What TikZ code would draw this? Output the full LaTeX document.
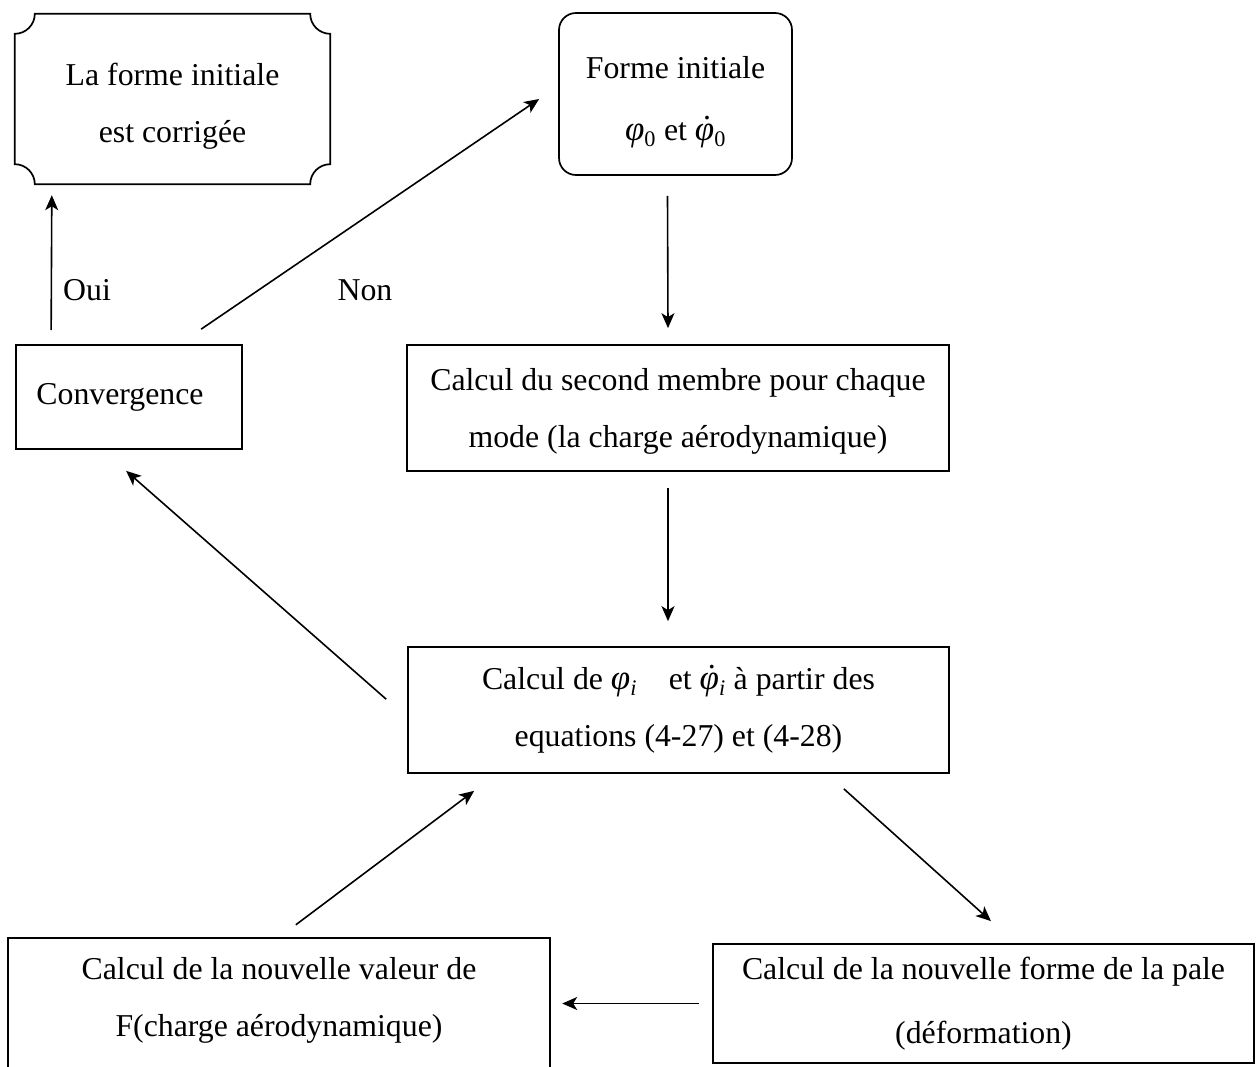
\documentclass[tikz,border=0pt]{standalone}
\usepackage{fontspec}
\setmainfont{Liberation Serif}
\usetikzlibrary{arrows.meta,calc}
\newcommand{\myphi}{{\fontsize{35}{40}\selectfont\textit{φ}}}
\newcommand{\myphidot}{\ooalign{\myphi\cr\hidewidth\kern0.16em\raisebox{0.66em}{\textup{.}}\hidewidth\cr}}
\begin{document}
\begin{tikzpicture}[x=1pt,y=-1pt,
  boxline/.style={line width=1.7pt,black},
  box/.style={boxline,draw,rectangle,inner sep=0pt,align=center,font=\fontsize{31.8}{57}\selectfont},
  txt/.style={inner sep=0pt,align=center,font=\fontsize{31.8}{57}\selectfont},
  arr/.style={line width=1.6pt,-{Stealth[length=15pt,width=13pt,inset=4pt]}}]
\useasboundingbox (0,0) rectangle (1256,1066);

% boxes
\node[txt,minimum width=315,minimum height=170] (P) at (172.5,99) {\rule{0pt}{37pt}La forme initiale\\est corrigée};
\draw[boxline] ($(P.north west)+(20,0)$) -- ($(P.north east)+(-20,0)$)
  arc[start angle=180,end angle=270,radius=20pt]
  -- ($(P.south east)+(0,-20)$)
  arc[start angle=90,end angle=180,radius=20pt]
  -- ($(P.south west)+(20,0)$)
  arc[start angle=0,end angle=90,radius=20pt]
  -- ($(P.north west)+(0,20)$)
  arc[start angle=270,end angle=360,radius=20pt] -- cycle;

\node[box,rounded corners=17pt,minimum width=233,minimum height=162] (FI) at (675.5,94)
  {\rule{0pt}{38pt}Forme initiale\\[5pt]\myphi\textsubscript{0} et \myphidot\textsubscript{0}};

\node[box,minimum width=226,minimum height=104] (C) at (129,397) {Convergence\hspace*{18pt}};

\node[box,minimum width=542,minimum height=126] (S) at (678,408)
  {\rule{0pt}{28pt}Calcul du second membre pour chaque\\mode (la charge aérodynamique)};

\node[box,minimum width=541,minimum height=126] (Phi) at (678.5,710)
  {Calcul de \myphi\textsubscript{\textit{i}}\quad et \myphidot\textsubscript{\textit{i}} à partir des\\equations (4-27) et (4-28)};

\node[box,minimum width=541,minimum height=119] (NF) at (983.5,1003.5)
  {Calcul de la nouvelle forme de la pale\\[7pt](déformation)};

\node[txt,minimum width=542,minimum height=125] (F) at (279,1000.5)
  {Calcul de la nouvelle valeur de\\F(charge aérodynamique)};
\draw[boxline] ([yshift=-30pt]F.south west) -- (F.north west) -- (F.north east) -- ([yshift=-30pt]F.south east);

% labels
\node[txt] (oui) at (87,290) {Oui};
\node[txt] (non) at (365,290) {Non};

% connectors
\draw[arr] ([xshift=36pt,yshift=14pt]C.north west) -- ([xshift=37pt,yshift=-11pt]P.south west);
\draw[arr] ([xshift=186pt,yshift=15pt]C.north west) -- ([xshift=-19pt,yshift=-5pt]FI.west);
\draw[arr] ([xshift=-8pt,yshift=-20pt]FI.south) -- ([xshift=-10pt,yshift=16pt]S.north);
\draw[arr] ([xshift=-10pt,yshift=-16pt]S.south) -- ([xshift=-10.5pt,yshift=25pt]Phi.north);
\draw[arr] ([xshift=-21pt,yshift=-53pt]Phi.north west) -- ([xshift=111pt,yshift=-21pt]C.south west);
\draw[arr] ([xshift=-106pt,yshift=-15pt]Phi.south east) -- ([xshift=7.5pt,yshift=22pt]NF.north);
\draw[arr] ([xshift=-13pt]NF.west) -- ([xshift=12pt]NF.west -| F.east);
\draw[arr] ([xshift=288pt,yshift=13pt]F.north west) -- ([xshift=67pt,yshift=-17pt]Phi.south west);
\end{tikzpicture}
\end{document}
